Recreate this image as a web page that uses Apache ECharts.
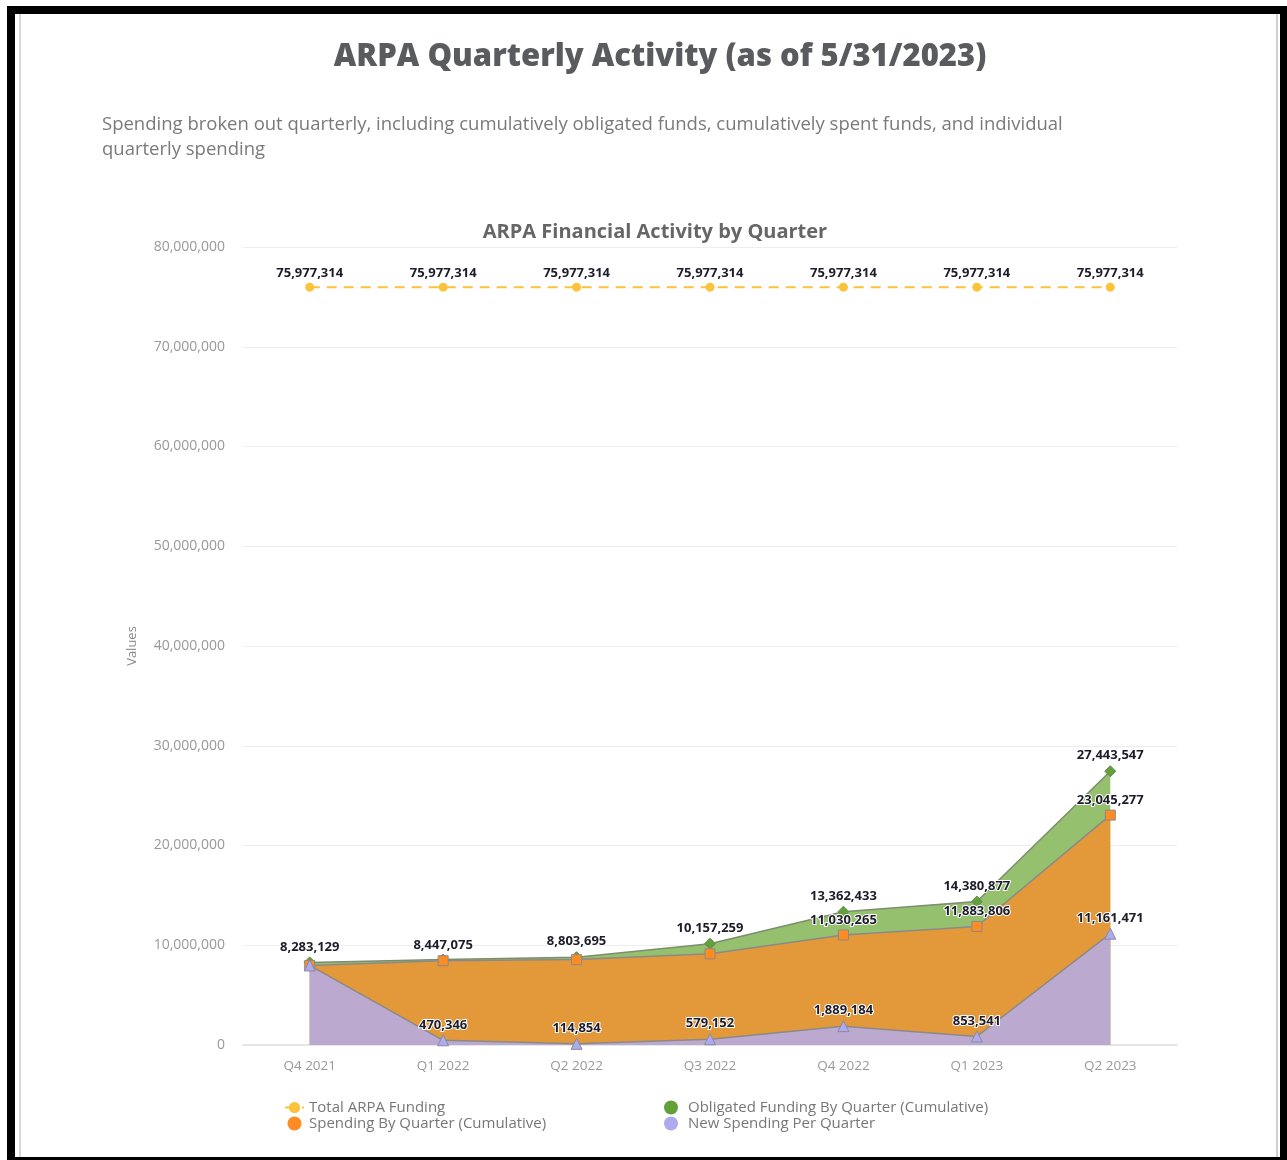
<!DOCTYPE html>
<html>
<head>
<meta charset="utf-8">
<script src="https://cdn.jsdelivr.net/npm/echarts@6/dist/echarts.min.js"></script>
<style>
html,body{margin:0;padding:0;background:#fff;}
#c{width:1287px;height:1160px;}
</style>
</head>
<body>
<div id="c"></div>
<script>
const categories = ['Q4 2021','Q1 2022','Q2 2022','Q3 2022','Q4 2022','Q1 2023','Q2 2023'];
const totalFunding = [75977314,75977314,75977314,75977314,75977314,75977314,75977314];
const obligatedCumulative = [8283129,8560000,8803695,10157259,13362433,14380877,27443547];
const spendingCumulative = [7976729,8447075,8561929,9141081,11030265,11883806,23045277];
const newSpending = [7976729,470346,114854,579152,1889184,853541,11161471];
// labels hidden in the reference because they overlap others
const hiddenObligated = [1];
const hiddenSpending = [0,2,3];
const hiddenNew = [0];

const FONT = '"Open Sans", "Noto Sans", sans-serif';
const fmt = v => Number(v).toLocaleString('en-US');
const labelCfg = (hidden) => ({
  show: true, position: 'top', distance: 3,
  color: '#1c1c2a', fontWeight: 'bold', fontSize: 13, fontFamily: FONT,
  textBorderColor: '#fff', textBorderWidth: 2,
  formatter: p => hidden.indexOf(p.dataIndex) >= 0 ? '' : fmt(p.value)
});

const chart = echarts.init(document.getElementById('c'), null, {renderer:'canvas'});
chart.setOption({
  backgroundColor: '#fff',
  animation: false,
  title: [
    {text: 'ARPA Quarterly Activity (as of 5/31/2023)', left: 655, textAlign: 'center', top: 37,
     textStyle: {fontSize: 31, fontWeight: 800, color: '#5a5b5e', fontFamily: FONT}},
    {text: 'ARPA Financial Activity by Quarter', left: 650, textAlign: 'center', top: 217,
     textStyle: {fontSize: 20, fontWeight: 'bold', color: '#666', fontFamily: FONT}}
  ],
  graphic: [
    {type: 'text', left: 102, top: 112, style: {
      text: 'Spending broken out quarterly, including cumulatively obligated funds, cumulatively spent funds, and individual\nquarterly spending',
      fill: '#7a7a7a', font: '18.5px ' + FONT, lineHeight: 25}},
    {type: 'rect', shape: {x: 7, y: 6, width: 1280, height: 8}, style: {fill: '#000'}},
    {type: 'rect', shape: {x: 7, y: 6, width: 8, height: 1154}, style: {fill: '#000'}},
    {type: 'rect', shape: {x: 1280, y: 6, width: 7, height: 1154}, style: {fill: '#000'}},
    {type: 'rect', shape: {x: 7, y: 1157, width: 1280, height: 3}, style: {fill: '#000'}},
    {type: 'rect', shape: {x: 19, y: 14, width: 2, height: 1143}, style: {fill: '#d8d8d8'}},
    {type: 'rect', shape: {x: 1276, y: 14, width: 2, height: 1143}, style: {fill: '#d0d0d0'}}
  ],
  grid: {left: 243, right: 110, top: 247, bottom: 115, containLabel: false},
  xAxis: {
    type: 'category', data: categories, boundaryGap: true,
    axisLine: {lineStyle: {color: '#e6e6e6', width: 2}},
    axisTick: {show: false},
    axisLabel: {color: '#999', fontSize: 13.5, fontFamily: FONT, margin: 14}
  },
  yAxis: {
    type: 'value', min: 0, max: 80000000, interval: 10000000,
    name: 'Values', nameLocation: 'middle', nameGap: 104, nameRotate: 90,
    nameTextStyle: {color: '#888', fontSize: 13, fontFamily: FONT},
    axisLine: {show: false}, axisTick: {show: false},
    axisLabel: {color: '#999', fontSize: 14, fontFamily: FONT, margin: 18, formatter: v => fmt(v)},
    splitLine: {lineStyle: {color: '#eeeeee', width: 1}}
  },
  legend: [
    {orient: 'vertical', left: 279, top: 1095, itemGap: 1, itemWidth: 19, itemHeight: 14,
     itemStyle: {borderWidth: 0},
     textStyle: {color: '#777', fontSize: 15, fontFamily: FONT},
     data: [{name: 'Total ARPA Funding'}, {name: 'Spending By Quarter (Cumulative)', icon: 'circle'}]},
    {orient: 'vertical', left: 659, top: 1095, itemGap: 1, itemWidth: 24, itemHeight: 14,
     itemStyle: {borderWidth: 0},
     textStyle: {color: '#777', fontSize: 15, fontFamily: FONT},
     data: [{name: 'Obligated Funding By Quarter (Cumulative)', icon: 'circle'}, {name: 'New Spending Per Quarter', icon: 'circle'}]}
  ],
  series: [
    {name: 'Total ARPA Funding', type: 'line', data: totalFunding,
     symbol: 'circle', symbolSize: 9,
     lineStyle: {color: '#fbc23a', width: 2, type: [10, 7]},
     itemStyle: {color: '#fbc23a'},
     label: labelCfg([])},
    {name: 'Obligated Funding By Quarter (Cumulative)', type: 'line', data: obligatedCumulative,
     symbol: 'diamond', symbolSize: 11,
     lineStyle: {color: '#7d8c6e', width: 1.5},
     itemStyle: {color: '#62a03a', borderColor: '#6b8a55', borderWidth: 1},
     areaStyle: {color: '#95c06e', opacity: 1},
     label: labelCfg(hiddenObligated)},
    {name: 'Spending By Quarter (Cumulative)', type: 'line', data: spendingCumulative,
     symbol: 'rect', symbolSize: 10,
     lineStyle: {color: '#8a8a8a', width: 1.5},
     itemStyle: {color: '#ff8c22', borderColor: '#8a8a8a', borderWidth: 1},
     areaStyle: {color: '#e3993a', opacity: 1},
     label: labelCfg(hiddenSpending)},
    {name: 'New Spending Per Quarter', type: 'line', data: newSpending,
     symbol: 'triangle', symbolSize: 11,
     lineStyle: {color: '#8a8a8a', width: 1.5},
     itemStyle: {color: '#aeaaf0', borderColor: '#8a8aa0', borderWidth: 1},
     areaStyle: {color: '#bba9cf', opacity: 1},
     label: labelCfg(hiddenNew)}
  ]
});
</script>
</body>
</html>
